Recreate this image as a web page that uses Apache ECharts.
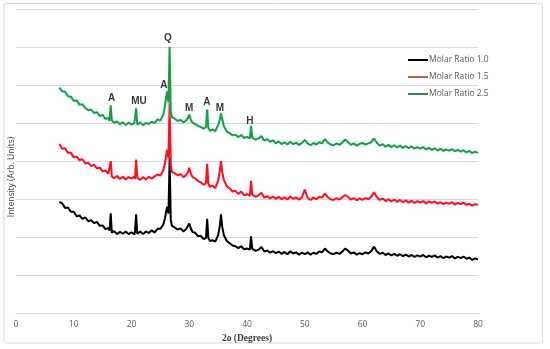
<!DOCTYPE html>
<html>
<head>
<meta charset="utf-8">
<script src="https://cdn.jsdelivr.net/npm/echarts@6/dist/echarts.min.js"></script>
<style>html,body{margin:0;padding:0;background:#fff;}#c{width:550px;height:349px;}</style>
</head>
<body>
<div id="c"></div>
<script>
// 2-theta positions (degrees)
const twoTheta = [
  7.5, 8, 8.5, 9, 9.5, 10, 10.5, 11, 11.5, 12,
  12.5, 13, 13.5, 14, 14.5, 15, 15.5, 16, 16.2, 16.4,
  16.6, 17, 17.5, 18, 18.5, 19, 19.5, 20, 20.5, 20.6,
  20.8, 21, 21.5, 22, 22.5, 23, 23.5, 24, 24.5, 25,
  25.5, 25.8, 26, 26.2, 26.4, 26.6, 26.8, 27, 27.5, 28,
  28.5, 29, 29.5, 29.8, 30, 30.3, 30.6, 31, 31.5, 32,
  32.5, 32.9, 33.1, 33.3, 33.6, 34, 34.5, 35, 35.3, 35.5,
  35.7, 36, 36.5, 37, 37.5, 38, 38.5, 39, 39.5, 40,
  40.5, 40.7, 40.9, 41.5, 42, 42.5, 43, 43.5, 44, 44.5,
  45, 45.5, 46, 46.5, 47, 47.5, 48, 48.5, 49, 49.5,
  50, 50.5, 51, 51.5, 52, 52.5, 53, 53.5, 54, 54.5,
  55, 55.5, 56, 56.5, 57, 57.5, 58, 58.5, 59, 59.5,
  60, 60.5, 61, 61.5, 62, 62.5, 63, 63.5, 64, 64.5,
  65, 65.5, 66, 66.5, 67, 67.5, 68, 68.5, 69, 69.5,
  70, 70.5, 71, 71.5, 72, 72.5, 73, 73.5, 74, 74.5,
  75, 75.5, 76, 76.5, 77, 77.5, 78, 78.5, 79, 79.5,
  80
];
// Intensity (arb. units, vertically offset as in the figure)
const ratio10 = [
  2.93, 2.89, 2.77, 2.78, 2.67, 2.67, 2.55, 2.57, 2.48, 2.52,
  2.42, 2.45, 2.37, 2.40, 2.30, 2.31, 2.21, 2.24, 2.17, 2.63,
  2.12, 2.16, 2.08, 2.14, 2.09, 2.15, 2.08, 2.13, 2.07, 2.14,
  2.60, 2.09, 2.15, 2.08, 2.15, 2.11, 2.18, 2.12, 2.22, 2.22,
  2.33, 2.50, 2.68, 2.80, 2.62, 4.09, 2.45, 2.30, 2.25, 2.20,
  2.23, 2.15, 2.22, 2.27, 2.36, 2.22, 2.13, 2.12, 2.03, 2.03,
  1.95, 1.98, 2.48, 1.98, 1.90, 1.92, 1.88, 2.05, 2.30, 2.60,
  2.28, 2.05, 1.90, 1.84, 1.78, 1.76, 1.71, 1.76, 1.68, 1.70,
  1.67, 2.02, 1.70, 1.64, 1.67, 1.74, 1.62, 1.65, 1.59, 1.63,
  1.58, 1.62, 1.56, 1.61, 1.55, 1.63, 1.57, 1.60, 1.54, 1.59,
  1.55, 1.60, 1.54, 1.59, 1.56, 1.62, 1.60, 1.70, 1.62, 1.57,
  1.55, 1.59, 1.56, 1.62, 1.70, 1.64, 1.57, 1.60, 1.54, 1.58,
  1.55, 1.60, 1.57, 1.63, 1.75, 1.62, 1.56, 1.59, 1.53, 1.57,
  1.52, 1.56, 1.51, 1.55, 1.50, 1.54, 1.49, 1.53, 1.48, 1.52,
  1.49, 1.53, 1.47, 1.51, 1.48, 1.52, 1.46, 1.50, 1.45, 1.49,
  1.46, 1.50, 1.44, 1.48, 1.45, 1.49, 1.43, 1.46, 1.40, 1.44,
  1.42
];
const ratio15 = [
  4.45, 4.33, 4.34, 4.22, 4.22, 4.10, 4.12, 4.03, 4.05, 3.94,
  3.96, 3.87, 3.91, 3.81, 3.83, 3.73, 3.76, 3.67, 3.70, 4.00,
  3.60, 3.55, 3.61, 3.53, 3.59, 3.52, 3.58, 3.54, 3.60, 3.53,
  4.04, 3.56, 3.51, 3.58, 3.52, 3.59, 3.54, 3.60, 3.65, 3.62,
  3.76, 3.95, 4.15, 4.30, 4.08, 5.54, 3.90, 3.72, 3.68, 3.63,
  3.66, 3.58, 3.64, 3.72, 3.83, 3.66, 3.58, 3.55, 3.48, 3.44,
  3.38, 3.42, 3.93, 3.42, 3.32, 3.36, 3.29, 3.48, 3.75, 4.00,
  3.72, 3.50, 3.34, 3.28, 3.20, 3.22, 3.14, 3.20, 3.10, 3.13,
  3.09, 3.48, 3.12, 3.06, 3.10, 3.17, 3.04, 3.08, 3.02, 3.07,
  3.01, 3.06, 3.00, 3.05, 2.99, 3.07, 3.01, 3.05, 2.99, 3.04,
  3.25, 3.03, 2.98, 3.04, 3.00, 3.06, 3.04, 3.15, 3.05, 3.00,
  2.98, 3.03, 2.99, 3.05, 3.11, 3.06, 2.99, 3.03, 2.97, 3.02,
  2.98, 3.03, 3.00, 3.06, 3.18, 3.05, 2.98, 3.02, 2.95, 3.00,
  2.94, 2.99, 2.93, 2.98, 2.92, 2.97, 2.91, 2.96, 2.90, 2.95,
  2.91, 2.95, 2.89, 2.94, 2.90, 2.94, 2.88, 2.92, 2.87, 2.91,
  2.88, 2.92, 2.86, 2.90, 2.87, 2.91, 2.85, 2.88, 2.83, 2.87,
  2.85
];
const ratio25 = [
  5.94, 5.84, 5.83, 5.71, 5.70, 5.59, 5.60, 5.49, 5.50, 5.40,
  5.34, 5.36, 5.27, 5.29, 5.19, 5.22, 5.11, 5.14, 5.06, 5.47,
  5.07, 5.01, 5.05, 4.97, 5.03, 4.95, 5.02, 4.96, 5.01, 4.97,
  5.39, 4.96, 5.02, 4.95, 5.01, 4.98, 5.04, 5.00, 5.10, 5.07,
  5.22, 5.45, 5.70, 5.84, 5.55, 7.01, 5.30, 5.16, 5.12, 5.06,
  5.09, 5.02, 5.08, 5.14, 5.23, 5.08, 5.01, 4.98, 4.93, 4.90,
  4.86, 4.90, 5.36, 4.88, 4.80, 4.84, 4.79, 4.95, 5.10, 5.26,
  5.12, 4.92, 4.78, 4.74, 4.68, 4.70, 4.63, 4.69, 4.61, 4.64,
  4.60, 4.93, 4.62, 4.57, 4.60, 4.66, 4.54, 4.58, 4.51, 4.55,
  4.47, 4.52, 4.45, 4.50, 4.44, 4.51, 4.45, 4.49, 4.43, 4.48,
  4.56, 4.47, 4.42, 4.48, 4.44, 4.50, 4.47, 4.58, 4.49, 4.44,
  4.42, 4.47, 4.43, 4.49, 4.57, 4.50, 4.43, 4.47, 4.41, 4.46,
  4.48, 4.44, 4.47, 4.50, 4.60, 4.48, 4.41, 4.45, 4.38, 4.43,
  4.37, 4.42, 4.36, 4.41, 4.35, 4.40, 4.34, 4.39, 4.33, 4.37,
  4.33, 4.37, 4.31, 4.35, 4.30, 4.34, 4.28, 4.33, 4.27, 4.31,
  4.28, 4.32, 4.26, 4.30, 4.25, 4.29, 4.23, 4.27, 4.21, 4.25,
  4.22
];
const seriesNames = ['Molar Ratio 1.0', 'Molar Ratio 1.5', 'Molar Ratio 2.5'];
// Phase labels
const peakNames = ['Q', 'A', 'MU', 'A', 'M', 'A', 'M', 'H'];
const peakX = [26.3, 16.55, 21.3, 25.6, 30.0, 33.05, 35.3, 40.5];
const peakY = [7.25, 5.66, 5.58, 5.99, 5.39, 5.54, 5.40, 5.06];
const xTicks = [0, 10, 20, 30, 40, 50, 60, 70, 80];

const zip = (ys) => twoTheta.map((x, i) => [x, ys[i]]);

const chart = echarts.init(document.getElementById('c'), null, {renderer: 'canvas'});
const fontUI = '"Open Sans", "Liberation Sans", sans-serif';
chart.setOption({
  animation: false,
  backgroundColor: '#fff',
  grid: {left: 16, right: 72, top: 9.3, bottom: 33, containLabel: false},
  xAxis: {
    type: 'value', min: xTicks[0], max: xTicks[xTicks.length - 1], interval: 10,
    axisLine: {show: true, lineStyle: {color: '#d9d9d9', width: 1}},
    axisTick: {show: false},
    splitLine: {show: false},
    axisLabel: {color: '#595959', fontSize: 8.5, fontFamily: fontUI, margin: 7},
    name: '2o (Degrees)', nameLocation: 'middle', nameGap: 19,
    nameTextStyle: {fontFamily: '"Liberation Serif", "Times New Roman", serif', fontWeight: 'bold', fontSize: 9.5, color: '#404040'}
  },
  yAxis: {
    type: 'value', min: 0, max: 8, interval: 1,
    axisLine: {show: false}, axisTick: {show: false}, axisLabel: {show: false},
    splitLine: {show: true, lineStyle: {color: '#d9d9d9', width: 1}}
  },
  legend: {
    orient: 'vertical', left: 403, top: 50, itemWidth: 20, itemHeight: 2, itemGap: 7,
    icon: 'rect',
    textStyle: {color: '#595959', fontSize: 8.5, fontFamily: fontUI, lineHeight: 10, padding: [0, 0, 0, -4]},
    data: [
      {name: seriesNames[0], itemStyle: {color: '#000000'}},
      {name: seriesNames[1], itemStyle: {color: '#a8684a'}},
      {name: seriesNames[2], itemStyle: {color: '#3f7f55'}}
    ]
  },
  graphic: [
    {type: 'rect', shape: {x: 4, y: 3.5, width: 538.5, height: 339.5, r: 2}, style: {fill: 'none', stroke: '#d9d9d9', lineWidth: 1}, silent: true, z: -10},
    {type: 'text', x: 12, y: 177, rotation: Math.PI / 2,
     style: {text: 'Intensity (Arb. Units)', fill: '#404040', font: '8.5px "Open Sans", sans-serif', align: 'center', verticalAlign: 'middle'}}
  ],
  series: [
    {name: seriesNames[0], type: 'line', data: zip(ratio10), showSymbol: false, symbol: 'none',
     lineStyle: {color: '#000000', width: 2}, itemStyle: {color: '#000000'}, z: 2},
    {name: seriesNames[1], type: 'line', data: zip(ratio15), showSymbol: false, symbol: 'none',
     lineStyle: {color: '#d8231c', width: 2, shadowColor: 'rgba(255,120,255,0.5)', shadowBlur: 4}, itemStyle: {color: '#d8231c'}, z: 3},
    {name: seriesNames[2], type: 'line', data: zip(ratio25), showSymbol: false, symbol: 'none',
     lineStyle: {color: '#2e9248', width: 2, shadowColor: 'rgba(120,255,230,0.5)', shadowBlur: 4}, itemStyle: {color: '#2e9248'}, z: 4},
    {name: 'labels', type: 'scatter', symbolSize: 0, silent: true, z: 5,
     data: peakX.map((x, i) => ({value: [x, peakY[i]], name: peakNames[i]})),
     label: {show: true, position: 'inside', formatter: (p) => p.name, color: '#000', fontWeight: 'bold', fontSize: 10, fontFamily: '"Liberation Sans", Arial, sans-serif'}}
  ]
});
</script>
</body>
</html>
